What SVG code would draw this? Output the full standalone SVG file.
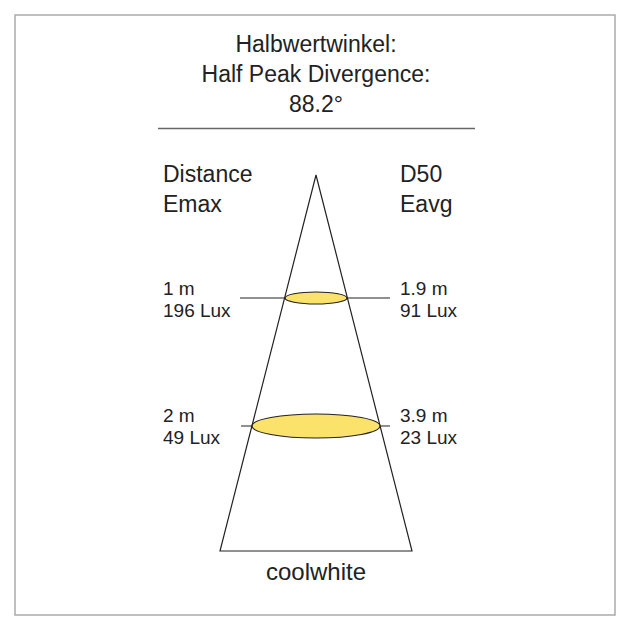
<svg xmlns="http://www.w3.org/2000/svg" width="630" height="630" viewBox="0 0 630 630">
<style>
.t{font-family:"Liberation Sans",Arial,sans-serif;fill:#222;}
.big{font-size:23px;}
.sm{font-size:19px;}
.ln{stroke:#222;stroke-width:1.2;fill:none;}
.el{fill:#fbe36b;stroke:#222;stroke-width:1.2;}
</style>
<rect x="15" y="15" width="600" height="600" fill="#fff" stroke="#aaa" stroke-width="1.5"/>
<g id="title">
<text class="t big" x="316" y="52" text-anchor="middle">Halbwertwinkel:</text>
<text class="t big" x="316" y="82" text-anchor="middle">Half Peak Divergence:</text>
<text class="t big" x="316" y="112" text-anchor="middle">88.2°</text>
<line x1="158" y1="128.5" x2="475" y2="128.5" stroke="#666" stroke-width="1.5"/>
</g>
<g id="headers">
<text class="t big" x="163" y="182">Distance</text>
<text class="t big" x="163" y="212">Emax</text>
<text class="t big" x="400" y="182">D50</text>
<text class="t big" x="400" y="212">Eavg</text>
</g>
<g id="connectors">
<polygon class="ln" points="316,175 412,551 220,551"/>
<line class="ln" x1="240" y1="298" x2="390" y2="298"/>
<line class="ln" x1="241" y1="426" x2="390" y2="426"/>
</g>
<g id="spot1">
<ellipse class="el" cx="316" cy="298" rx="31" ry="6"/>
<text class="t sm" x="163" y="295">1 m</text>
<text class="t sm" x="163" y="317">196 Lux</text>
<text class="t sm" x="400" y="295">1.9 m</text>
<text class="t sm" x="400" y="317">91 Lux</text>
</g>
<g id="spot2">
<ellipse class="el" cx="316" cy="426" rx="64" ry="12"/>
<text class="t sm" x="163" y="422">2 m</text>
<text class="t sm" x="163" y="444">49 Lux</text>
<text class="t sm" x="400" y="422">3.9 m</text>
<text class="t sm" x="400" y="444">23 Lux</text>
</g>
<g id="label">
<text class="t big" x="316" y="580" text-anchor="middle" style="font-size:24px">coolwhite</text>
</g>
</svg>
